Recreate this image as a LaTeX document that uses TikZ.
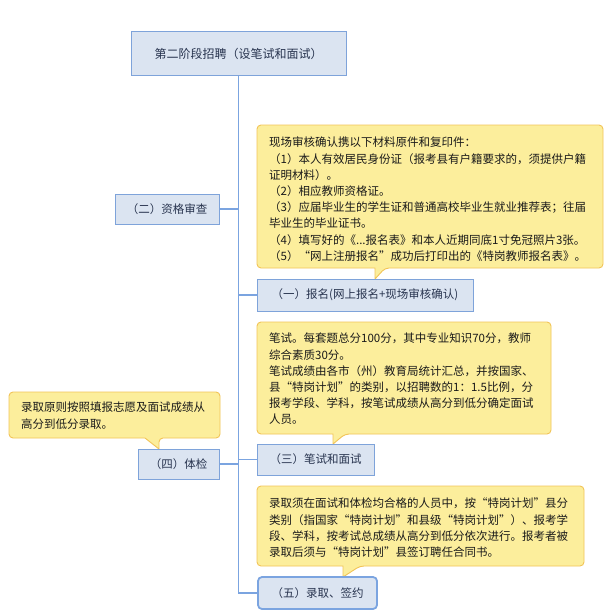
\documentclass[tikz,border=0pt]{standalone}
\usepackage{fontspec}
\setmainfont{Noto Sans CJK SC}
\definecolor{boxfill}{HTML}{DBE4F1}
\definecolor{boxdraw}{HTML}{7EA3DA}
\definecolor{linecol}{HTML}{7BA4E0}
\definecolor{calfill}{HTML}{FCEE9C}
\definecolor{caldraw}{HTML}{F2C458}
\definecolor{boxtext}{HTML}{28344F}
\definecolor{caltext}{HTML}{1A1A1A}
\begin{document}
\begin{tikzpicture}[x=1pt,y=-1pt,
  topic/.style={draw=boxdraw,fill=boxfill,line width=1pt,text=boxtext,
    font=\fontsize{11.5}{14}\selectfont,inner sep=0pt,anchor=center},
  conn/.style={draw=linecol,line width=1.2pt},
  callout/.style={draw=caldraw,fill=calfill,line width=0.9pt},
  caltxt/.style={anchor=north west,inner sep=0pt,align=left,text=caltext,
    font=\fontsize{11.5}{16.2}\selectfont}]
\useasboundingbox (0,0) rectangle (613,615);
\fill[white] (0,0) rectangle (613,615);

% callout shapes
\draw[callout,rounded corners=4] (257,200) -- (257,125) -- (603,125) -- (603,268) -- (385,268)
  [sharp corners] -- (375,279) -- (375,268) [rounded corners=4] -- (257,268) -- cycle;
\draw[callout,rounded corners=4] (257,380) -- (257,322) -- (551,322) -- (551,434) -- (345,434)
  [sharp corners] -- (333,444) -- (333,434) [rounded corners=4] -- (257,434) -- cycle;
\draw[callout,rounded corners=4] (257,520) -- (257,486) -- (584,486) -- (584,566) -- (360,566)
  [sharp corners] -- (343,577) -- (343,566) [rounded corners=4] -- (257,566) -- cycle;
\draw[callout,rounded corners=4] (9,415) -- (9,392) -- (220,392) -- (220,438) -- (159,438)
  [sharp corners] -- (159,449) -- (145,438) [rounded corners=4] -- (9,438) -- cycle;

% topic boxes
\node[topic,minimum width=215pt,minimum height=44pt,font=\fontsize{12}{14}\selectfont] (root) at (238.5,54) {第二阶段招聘（设笔试和面试）};
\node[topic,minimum width=104pt,minimum height=30pt] (b2) at (167,209) {（二）资格审查};
\node[topic,minimum width=216pt,minimum height=32pt] (b1) at (365,295) {（一）报名(网上报名+现场审核确认)};
\node[topic,minimum width=117pt,minimum height=31pt] (b3) at (315.5,459.5) {（三）笔试和面试};
\node[topic,minimum width=81pt,minimum height=30pt] (b4) at (178.5,464) {（四）体检};
\node[topic,minimum width=119pt,minimum height=32pt,rounded corners=4,line width=1.8pt,draw=linecol] (b5) at (317.5,593) {（五）录取、签约};

% connectors
\draw[conn] (root.south) -- (root.south |- b5.west) -- (b5.west);
\draw[conn] (b2.east) -- (b2.east -| root.south);
\draw[conn] (b1.west -| root.south) -- (b1.west);
\draw[conn] (b3.west -| root.south) -- (b3.west);
\draw[conn] (b4.east) -- (b4.east -| root.south);

% callout texts
\node[caltxt] (t1) at (269,137) {现场审核确认携以下材料原件和复印件：\\
（1）本人有效居民身份证（报考县有户籍要求的，须提供户籍\\
证明材料）。\\
（2）相应教师资格证。\\
（3）应届毕业生的学生证和普通高校毕业生就业推荐表；往届\\
毕业生的毕业证书。\\
（4）填写好的《...报名表》和本人近期同底1寸免冠照片3张。\\
（5）“网上注册报名”成功后打印出的《特岗教师报名表》。};
\node[caltxt] (t2) at (269,333) {笔试。每套题总分100分，其中专业知识70分，教师\\
综合素质30分。\\
笔试成绩由各市（州）教育局统计汇总，并按国家、\\
县“特岗计划”的类别，以招聘数的1：1.5比例，分\\
报考学段、学科，按笔试成绩从高分到低分确定面试\\
人员。};
\node[caltxt] (t3) at (269,498) {录取须在面试和体检均合格的人员中，按“特岗计划”县分\\
类别（指国家“特岗计划”和县级“特岗计划”）、报考学\\
段、学科，按考试总成绩从高分到低分依次进行。报考者被\\
录取后须与“特岗计划”县签订聘任合同书。};
\node[caltxt] (t4) at (21,402) {录取原则按照填报志愿及面试成绩从\\
高分到低分录取。};
\end{tikzpicture}
\end{document}
